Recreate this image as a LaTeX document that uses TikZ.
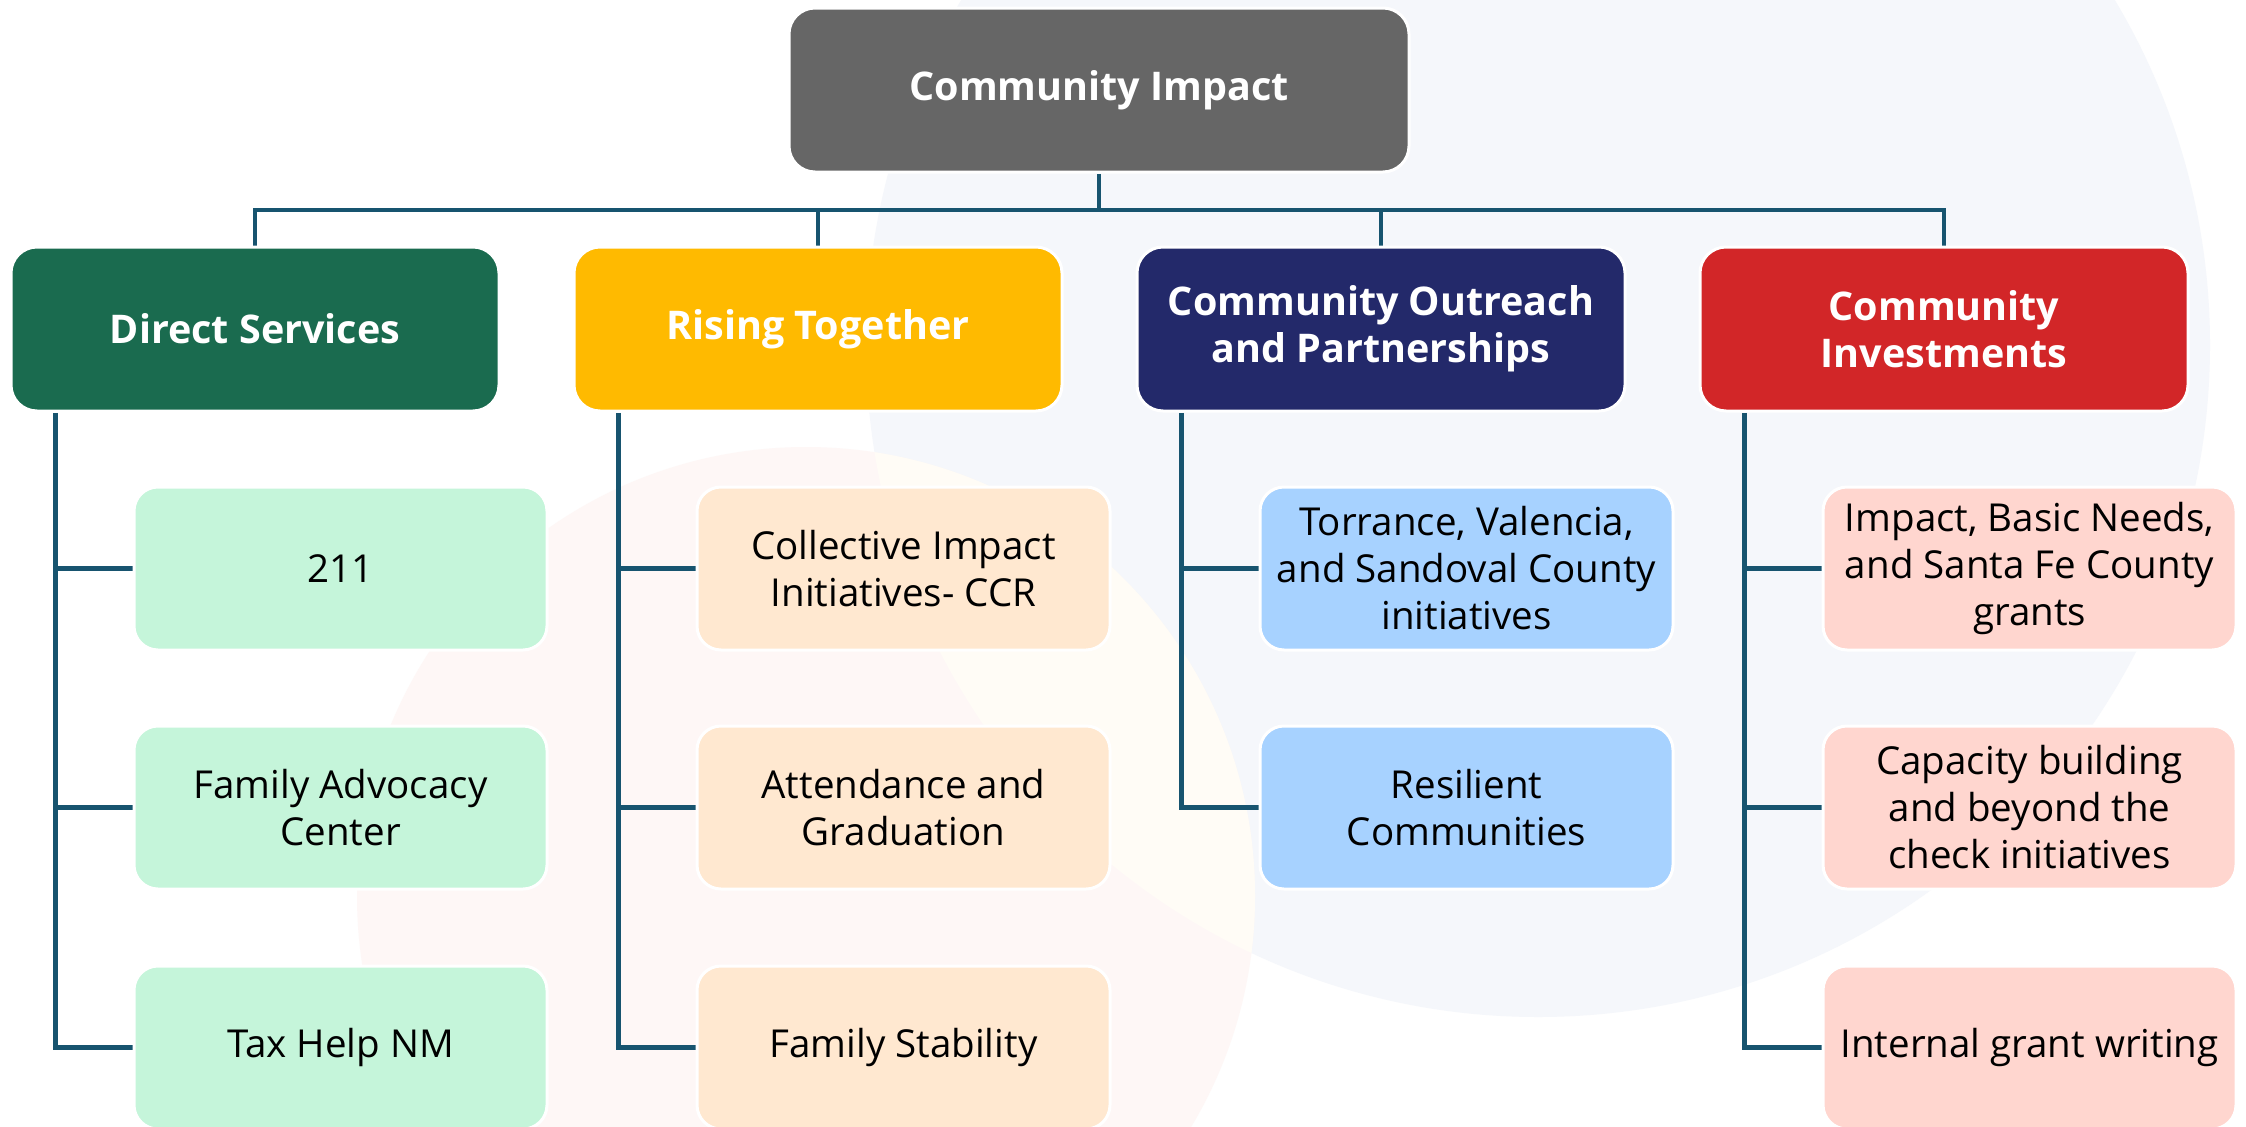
\documentclass[tikz,border=0pt]{standalone}
\usepackage{fontspec}
\setmainfont{Open Sans}
\definecolor{linec}{HTML}{17546F}
\definecolor{cgray}{HTML}{666666}
\definecolor{cgreen}{HTML}{1A6B4F}
\definecolor{cyellow}{HTML}{FFBA00}
\definecolor{cnavy}{HTML}{23296A}
\definecolor{cred}{HTML}{D22628}
\definecolor{lgreen}{HTML}{C5F5DA}
\definecolor{lpeach}{HTML}{FFE8D0}
\definecolor{lblue}{HTML}{A7D2FF}
\definecolor{lpink}{HTML}{FFD6CF}
\definecolor{bgblue}{HTML}{F5F7FB}
\definecolor{bgpink}{HTML}{FEF7F6}
\definecolor{bgcream}{HTML}{FFFCF6}
\pgfdeclarelayer{bg}
\pgfdeclarelayer{mid}
\pgfsetlayers{bg,mid,main}
\tikzset{
  box/.style={rectangle, rounded corners=26pt, draw=white, line width=3pt, inner sep=0pt, align=center, font=\fontsize{38.5}{47}\selectfont},
  titlebox/.style={box, fill=cgray, text=white, font=\bfseries\fontsize{39.5}{47}\selectfont, minimum width=620pt, minimum height=164pt},
  headbox/.style={box, text=white, font=\bfseries\fontsize{39.5}{47}\selectfont, minimum width=488pt, minimum height=164pt},
  childbox/.style={box, text=black, rounded corners=24pt, minimum width=413pt, minimum height=163pt},
  conn/.style={draw=linec, line width=4.5pt},
}
\begin{document}
\begin{tikzpicture}[x=1pt,y=-1pt]
\useasboundingbox (0,0) rectangle (2246,1127);
\begin{pgfonlayer}{bg}
  \fill[white] (0,0) rectangle (2246,1127);
  \fill[bgblue] (1538,345) circle[radius=672pt];
  \fill[bgpink] (806,896) circle[radius=449pt];
  \begin{scope}
    \clip (1538,345) circle[radius=672pt];
    \fill[bgcream] (806,896) circle[radius=449pt];
  \end{scope}
\end{pgfonlayer}

% title
\node[titlebox] (top) at (1099,90) {Community Impact};

% headers
\node[headbox, fill=cgreen]  (h1) at (255,329)  {Direct Services};
\node[headbox, fill=cyellow] (h2) at (818,329)  {Rising Together};
\node[headbox, fill=cnavy]   (h3) at (1381,329) {Community Outreach\\and Partnerships};
\node[headbox, fill=cred]    (h4) at (1944,329) {Community\\Investments};

% children
\node[childbox, fill=lgreen] (c11) at (340.5,568.5) {211};
\node[childbox, fill=lgreen] (c12) at (340.5,807.5) {Family Advocacy\\Center};
\node[childbox, fill=lgreen] (c13) at (340.5,1047.5) {Tax Help NM};

\node[childbox, fill=lpeach] (c21) at (903.5,568.5) {Collective Impact\\Initiatives- CCR};
\node[childbox, fill=lpeach] (c22) at (903.5,807.5) {Attendance and\\Graduation};
\node[childbox, fill=lpeach] (c23) at (903.5,1047.5) {Family Stability};

\node[childbox, fill=lblue] (c31) at (1466.5,568.5) {Torrance, Valencia,\\and Sandoval County\\initiatives};
\node[childbox, fill=lblue] (c32) at (1466.5,807.5) {Resilient\\Communities};

\node[childbox, fill=lpink] (c41) at (2029.5,568.5) {Impact, Basic Needs,\\and Santa Fe County\\grants};
\node[childbox, fill=lpink] (c42) at (2029.5,807.5) {Capacity building\\and beyond the\\check initiatives};
\node[childbox, fill=lpink] (c43) at (2029.5,1047.5) {Internal grant writing};

\coordinate (bus) at (1099,210);
\coordinate (b1) at ([xshift=46pt]h1.south west);
\coordinate (b2) at ([xshift=46pt]h2.south west);
\coordinate (b3) at ([xshift=46pt]h3.south west);
\coordinate (b4) at ([xshift=46pt]h4.south west);

\begin{pgfonlayer}{mid}
  \draw[conn] (top.south) -- (bus);
  \draw[conn] (h1.north) -- (h1.north |- bus) -- (h4.north |- bus) -- (h4.north);
  \draw[conn] (h2.north) -- (h2.north |- bus);
  \draw[conn] (h3.north) -- (h3.north |- bus);

  \draw[conn] (b1) |- (c13.west);
  \draw[conn] (c11.west) -- (c11.west -| b1);
  \draw[conn] (c12.west) -- (c12.west -| b1);

  \draw[conn] (b2) |- (c23.west);
  \draw[conn] (c21.west) -- (c21.west -| b2);
  \draw[conn] (c22.west) -- (c22.west -| b2);

  \draw[conn] (b3) |- (c32.west);
  \draw[conn] (c31.west) -- (c31.west -| b3);

  \draw[conn] (b4) |- (c43.west);
  \draw[conn] (c41.west) -- (c41.west -| b4);
  \draw[conn] (c42.west) -- (c42.west -| b4);
\end{pgfonlayer}
\end{tikzpicture}
\end{document}
